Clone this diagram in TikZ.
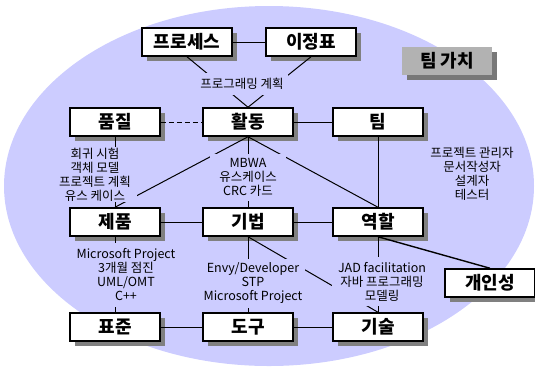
\documentclass[tikz,border=0pt]{standalone}
\usepackage{fontspec}
\setmainfont{Noto Sans CJK KR}
\usetikzlibrary{shadows}
\definecolor{ell}{RGB}{204,204,255}
\definecolor{shadowgray}{RGB}{128,128,128}
\definecolor{tagfill}{RGB}{178,178,178}
\definecolor{tagshadow}{RGB}{120,120,120}
\begin{document}
\begin{tikzpicture}[x=1pt,y=-1pt,
  box/.style={draw=black, line width=1.5pt, fill=white, minimum width=90pt, minimum height=28pt, inner sep=0pt,
    font=\fontsize{18}{18}\selectfont\bfseries,
    drop shadow={shadow xshift=5pt, shadow yshift=-5pt, fill=shadowgray, opacity=1}},
  tagbox/.style={fill=tagfill, minimum width=90pt, minimum height=28pt, inner sep=0pt,
    font=\fontsize{18}{18}\selectfont\bfseries,
    drop shadow={shadow xshift=5pt, shadow yshift=-5pt, fill=tagshadow, opacity=1}},
  conn/.style={line width=1pt, draw=black},
  lbl/.style={fill=ell, inner sep=0pt, align=center, font=\fontsize{12.5}{14}\selectfont}]
\useasboundingbox (0,0) rectangle (535,368);
\fill[ell] (269,186) ellipse [x radius=265pt, y radius=180pt];

\node[box] (pro) at (187,42) {프로세스};
\node[box] (mil) at (311,42) {이정표};
\node[tagbox] (val) at (447,61) {팀 가치};
\node[box] (qual) at (115,122) {품질};
\node[box] (act) at (248,122) {활동};
\node[box] (tm) at (378,122) {팀};
\node[box] (prod) at (115,222) {제품};
\node[box] (tech) at (248,222) {기법};
\node[box] (role) at (378,222) {역할};
\node[box] (pers) at (490,283) {개인성};
\node[box] (std) at (115,327) {표준};
\node[box] (tool) at (248,327) {도구};
\node[box] (skill) at (378,327) {기술};

\draw[conn] (pro) -- (mil);
\draw[conn] (pro.south) -- (act.north);
\draw[conn] (mil.south) -- (act.north);
\draw[conn, dash pattern=on 5pt off 3pt] (qual) -- (act);
\draw[conn] (act) -- (tm);
\draw[conn] (qual.south) -- (prod.north);
\draw[conn] (act.south) -- (prod.north);
\draw[conn] (act.south) -- (tech.north);
\draw[conn] (act.south) -- (role.north);
\draw[conn] (tm.south) -- (role.north);
\draw[conn] (prod) -- (tech);
\draw[conn] (tech) -- (role);
\draw[conn] (prod.south) -- (std.north);
\draw[conn] (tech.south) -- (tool.north);
\draw[conn] (tech.south) -- (skill.north);
\draw[conn] (role.south) -- (skill.north);
\draw[conn, line width=1.4pt] (role.south) -- (pers.north);
\draw[conn] (std) -- (tool);
\draw[conn] (tool) -- (skill);

\node[lbl, minimum width=92pt, minimum height=22pt] (plan) at (242,84) {프로그래밍 계획};
\node[lbl, minimum width=84pt, minimum height=55pt] (qtxt) at (95,174.5) {회귀 시험\\객체 모델\\프로젝트 계획\\유스 케이스};
\node[lbl, minimum width=76pt, minimum height=47pt] (atxt) at (248,177.5) {MBWA\\유스케이스\\CRC 카드};
\node[lbl] (ttxt) at (472,174) {프로젝트 관리자\\문서작성자\\설계자\\테스터};
\node[lbl, minimum width=100pt, minimum height=64pt] (ptxt) at (126,275) {Microsoft Project\\3개월 점진\\UML/OMT\\C++};
\node[lbl, minimum width=104pt, minimum height=49pt] (etxt) at (253,283.5) {Envy/Developer\\STP\\Microsoft Project};
\node[lbl, minimum width=100pt, minimum height=49pt] (rtxt) at (382,281.5) {JAD facilitation\\자바 프로그래밍\\모델링};
\end{tikzpicture}
\end{document}
